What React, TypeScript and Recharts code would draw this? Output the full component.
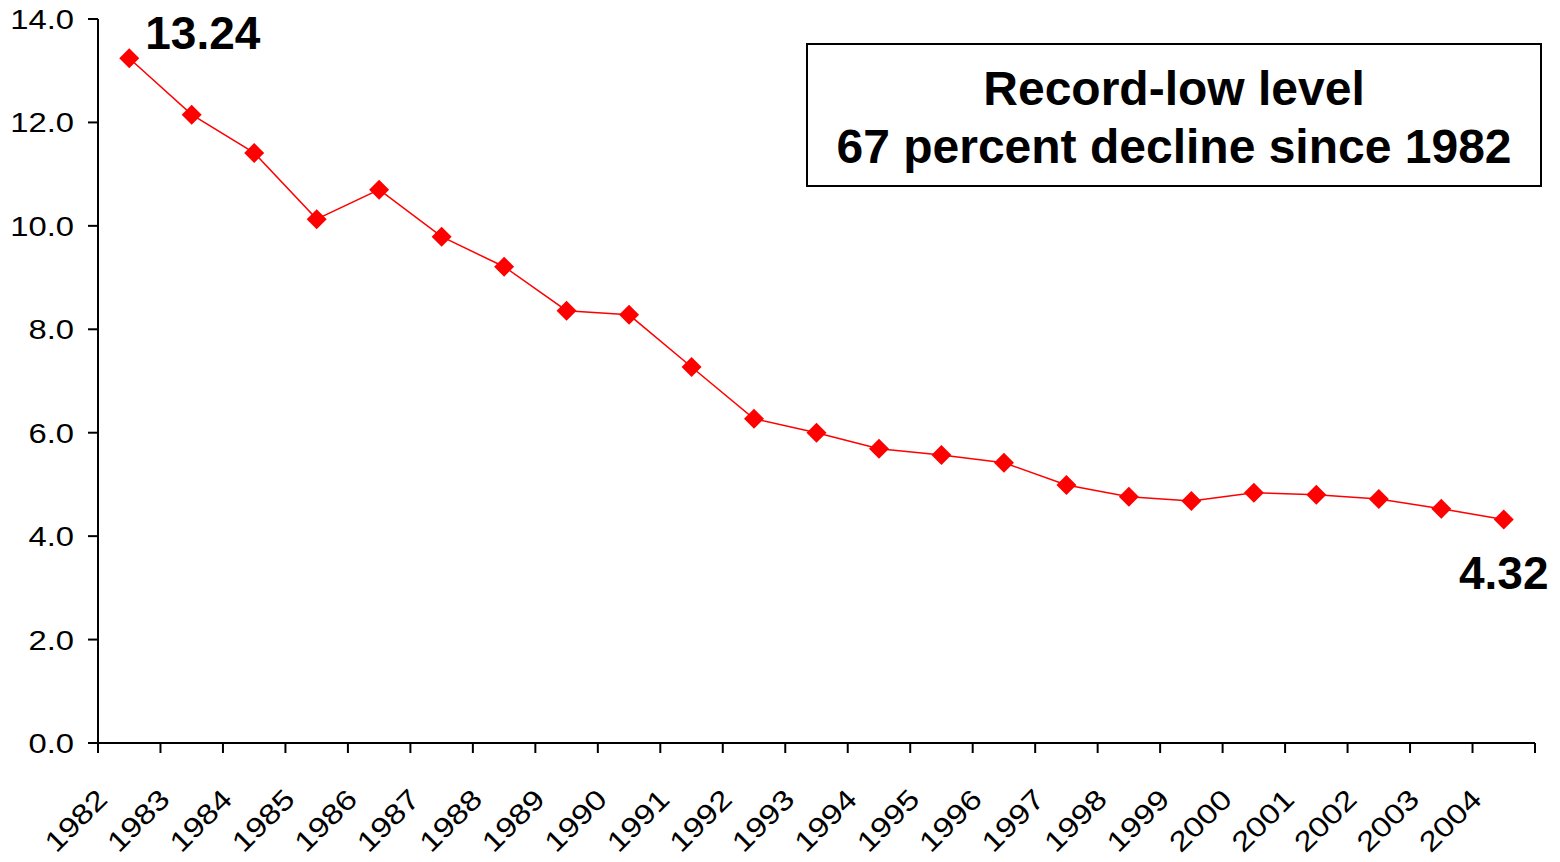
import React from 'react';
import { LineChart, Line, XAxis, YAxis } from 'recharts';

const years = [
  '1982', '1983', '1984', '1985', '1986', '1987', '1988', '1989', '1990', '1991', '1992', '1993',
  '1994', '1995', '1996', '1997', '1998', '1999', '2000', '2001', '2002', '2003', '2004',
];
const rates = [
  13.24, 12.15, 11.41, 10.13, 10.7, 9.79, 9.21, 8.36, 8.28, 7.27, 6.27, 6.0,
  5.69, 5.57, 5.42, 4.99, 4.76, 4.68, 4.84, 4.8, 4.72, 4.53, 4.32,
];
const yTicks = [0, 2, 4, 6, 8, 10, 12, 14];
const boxLines = ['Record-low level', '67 percent decline since 1982'];

const FONT = '"Liberation Sans", Arial, Helvetica, sans-serif';

// points sit in the middle of each year slot, ticks on the slot edges
const data = years.map((year, i) => ({ year, pos: i + 0.5, rate: rates[i] }));
const xTicks = [...years.map((_, i) => i), years.length];

const Diamond = (props: any) => {
  const { cx, cy, index } = props;
  if (cx == null || cy == null) return null;
  const r = 10;
  return (
    <polygon
      key={`d-${index}`}
      points={`${cx},${cy - r} ${cx + r},${cy} ${cx},${cy + r} ${cx - r},${cy}`}
      fill="#ff0000"
    />
  );
};

const EndLabel = (props: any) => {
  const { x, y, index, value } = props;
  const style = { fontFamily: FONT, fontSize: 46, fontWeight: 'bold' as const };
  if (index === 0) {
    return (
      <text x={x + 16} y={y - 9} fill="#000" style={style}>
        {Number(value).toFixed(2)}
      </text>
    );
  }
  if (index === rates.length - 1) {
    return (
      <text x={x} y={y + 69} fill="#000" textAnchor="middle" style={style}>
        {Number(value).toFixed(2)}
      </text>
    );
  }
  return null;
};

// the original axis text is a bit stretched sideways
const YearTick = (props: any) => {
  const { x, y, payload } = props;
  const label = years[payload.value] ?? '';
  if (!label) return null;
  const ax = x + 11;
  const ay = y + 46;
  return (
    <text
      x={0}
      y={0}
      textAnchor="end"
      fill="#000"
      fontSize={28}
      fontFamily={FONT}
      transform={`translate(${ax}, ${ay}) rotate(-45) scale(1.2, 1)`}
    >
      {label}
    </text>
  );
};

const ValueTick = (props: any) => {
  const { x, y, payload } = props;
  return (
    <text
      x={0}
      y={0}
      dy="0.355em"
      textAnchor="end"
      fill="#000"
      fontSize={28}
      fontFamily={FONT}
      transform={`translate(${x}, ${y}) scale(1.17, 1)`}
    >
      {Number(payload.value).toFixed(1)}
    </text>
  );
};

export default function App() {
  return (
    <div style={{ position: 'absolute', left: 0, top: 0, width: 1560, height: 862, background: '#fff', fontFamily: FONT }}>
      <LineChart width={1560} height={862} data={data} margin={{ top: 19, right: 25, bottom: 0, left: 0 }}>
        <XAxis
          dataKey="pos"
          type="number"
          domain={[0, years.length]}
          ticks={xTicks}
          interval={0}
          height={119}
          tickSize={10}
          axisLine={{ stroke: '#000', strokeWidth: 2 }}
          tickLine={{ stroke: '#000', strokeWidth: 2 }}
          tick={<YearTick />}
        />
        <YAxis
          domain={[0, 14]}
          ticks={yTicks}
          interval={0}
          width={98}
          tickSize={10}
          tickMargin={14}
          axisLine={{ stroke: '#000', strokeWidth: 2 }}
          tickLine={{ stroke: '#000', strokeWidth: 2 }}
          tick={<ValueTick />}
        />
        <Line
          dataKey="rate"
          stroke="#ff0000"
          strokeWidth={1.5}
          dot={<Diamond />}
          activeDot={false}
          label={<EndLabel />}
          isAnimationActive={false}
        />
      </LineChart>
      <div
        style={{
          position: 'absolute',
          left: 806,
          top: 43,
          width: 736,
          height: 144,
          boxSizing: 'border-box',
          border: '2px solid #000',
          background: '#fff',
          paddingTop: 15,
          textAlign: 'center',
          fontWeight: 'bold',
          fontSize: 48,
          lineHeight: '58px',
          color: '#000',
        }}
      >
        {boxLines.map((line) => (
          <div key={line}>{line}</div>
        ))}
      </div>
    </div>
  );
}
